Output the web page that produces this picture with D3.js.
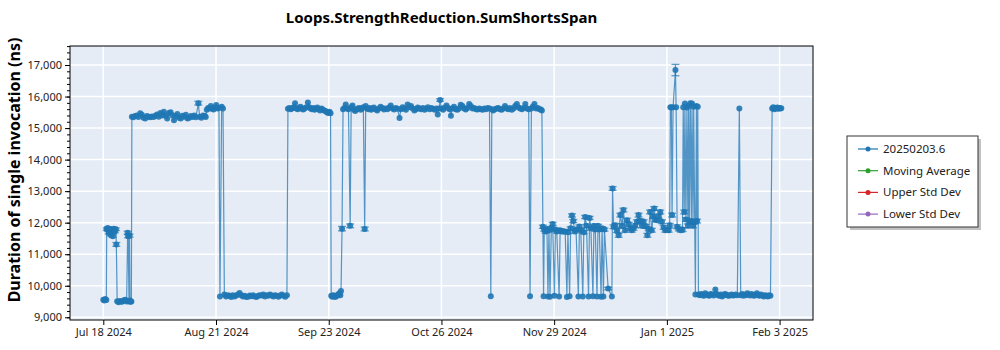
<!DOCTYPE html>
<html><head><meta charset="utf-8">
<script src="https://cdn.jsdelivr.net/npm/d3@7"></script>
<style>body{margin:0;background:#fff;} svg{display:block;font-family:"Noto Sans",sans-serif;}</style>
</head><body><svg id="chart" width="1000" height="350"></svg>
<script>
// ---------------- DATA ----------------
const chartTitle = "Loops.StrengthReduction.SumShortsSpan";
const yAxisTitle = "Duration of single invocation (ns)";
const startDate = "2024-07-18";
// days since startDate
const days = [
  // segment A
  0.0,0.3,0.6,0.9,1.0,1.3,1.6,1.9,2.2,2.5,2.8,3.1,3.4,3.7,3.85,4.1,4.5,4.9,5.3,5.7,6.1,6.5,6.9,7.2,7.35,7.6,7.75,7.9,8.1,8.3,
  // high1
  8.45,8.9,9.4,9.9,10.4,10.9,11.4,11.9,12.4,12.9,
  13.4,13.9,14.4,14.9,15.4,15.9,16.4,16.9,17.4,17.9,
  18.4,18.9,19.4,19.9,20.4,20.9,21.4,21.9,22.4,22.9,
  23.4,23.9,24.4,24.9,25.4,25.9,26.4,26.9,27.4,28.1,
  28.5,29.0,29.5,30.0,30.3,
  // high2
  30.6,31.0,31.4,31.8,32.2,32.6,33.0,33.4,33.8,34.2,34.5,35.0,35.4,35.8,
  // low2
  36.3,36.8,37.3,37.8,38.3,38.8,39.3,39.8,40.3,40.8,
  41.3,41.8,42.3,42.8,43.3,43.8,44.3,44.8,45.3,45.8,
  46.3,46.8,47.3,47.8,48.3,48.8,49.3,49.8,50.3,50.8,
  51.3,51.8,52.3,52.8,53.3,53.8,54.3,
  // high3
  54.6,55.0,55.4,55.8,56.2,56.7,57.1,57.5,57.9,58.3,
  58.7,59.1,59.5,59.9,60.5,60.9,61.3,61.7,62.1,62.5,
  62.9,63.3,63.7,64.1,64.5,64.9,65.3,65.7,66.1,66.5,
  66.9,67.2,
  // low3
  67.4,67.7,68.0,68.3,68.6,68.9,69.2,69.5,69.8,70.1,70.3,70.6,
  // high4
  70.9,71.3,71.7,72.1,72.5,73.0,73.3,73.7,74.1,74.5,
  74.9,75.3,75.7,76.1,76.5,76.9,77.3,77.6,78.0,78.4,
  78.8,79.2,79.6,80.0,80.5,81.0,81.5,82.0,82.5,83.0,
  83.5,84.0,84.5,85.0,85.5,86.0,86.5,87.0,87.6,88.0,
  88.5,89.0,89.5,90.0,90.5,91.0,91.5,92.0,92.5,93.0,
  93.5,94.0,94.5,95.0,95.5,96.0,96.5,97.0,97.5,98.0,
  98.5,98.9,99.3,99.6,100.0,100.5,101.0,101.5,102.0,102.4,
  102.8,103.2,103.7,104.2,104.7,105.2,105.7,106.2,106.7,107.2,
  107.7,108.2,108.7,109.2,109.7,110.2,110.7,111.2,111.7,112.2,
  112.7,113.2,113.7,114.2,114.6,114.9,115.3,115.8,116.3,116.8,
  117.3,117.8,118.3,118.8,119.3,119.8,120.3,120.8,121.3,121.8,
  122.3,122.8,123.3,123.8,124.3,124.8,125.3,125.8,126.2,126.6,
  127.0,127.5,128.0,128.5,129.0,129.4,129.7,
  // oscillation
  130.0,130.2,130.4,130.8,131.2,131.5,131.8,132.1,132.5,132.9,
  133.4,133.7,134.1,134.8,135.1,135.6,136.1,136.6,137.1,137.4,
  137.9,138.2,138.6,139.0,139.4,139.8,140.5,140.8,141.2,141.8,
  142.1,142.5,142.9,143.5,143.8,144.2,144.8,145.1,145.5,146.0,
  146.3,146.7,147.2,147.5,147.9,148.2,149.3,150.4,150.6,150.9,
  // rising
  151.4,151.9,152.4,152.9,153.4,153.8,154.3,154.9,155.4,155.9,
  156.3,156.8,157.3,157.8,158.3,158.8,159.3,159.8,160.4,160.9,
  161.3,161.7,162.2,162.6,162.9,163.3,163.7,164.2,164.7,165.2,
  165.7,166.2,166.7,167.2,
  // spikes
  167.5,167.7,168.0,168.2,168.5,169.2,169.4,169.7,170.2,170.8,
  171.3,171.5,171.8,172.0,172.3,172.6,172.9,173.1,173.3,173.6,
  173.9,174.1,174.4,174.6,174.9,175.1,175.4,175.6,175.8,176.0,
  // low4
  176.4,176.8,177.2,177.6,178.0,178.4,178.8,179.2,179.6,180.0,
  180.5,181.0,181.4,181.8,182.2,182.6,183.0,183.4,183.8,184.2,
  184.6,185.0,185.4,185.8,186.2,186.6,187.0,187.5,188.1,188.5,
  188.9,189.3,189.7,190.1,190.5,190.9,191.3,191.7,192.1,192.5,
  192.9,193.3,193.7,194.1,194.5,194.9,195.3,195.7,196.1,196.5,
  196.9,197.3,197.8,198.1,198.4,198.7,199.0,199.3,199.6,199.9,
  200.2,200.5
];
const durations = [
  // segment A
  9560,9530,9580,9545,11790,11830,11680,11800,11620,11780,11570,11810,11720,11790,11310,9510,9480,9520,9495,9500,9540,9560,9500,11680,11570,9500,11590,9530,9490,9500,
  // high1
  15360,15340,15380,15400,15350,15470,15420,15330,15300,15380,
  15360,15340,15370,15350,15390,15430,15360,15480,15400,15520,
  15390,15300,15480,15500,15410,15250,15380,15450,15330,15300,
  15390,15360,15420,15300,15330,15380,15350,15400,15340,15790,
  15360,15330,15400,15380,15350,
  // high2
  15580,15640,15620,15700,15610,15590,15650,15730,15620,15640,9660,15680,15620,9720,
  // low2
  9660,9700,9680,9640,9700,9660,9690,9720,9770,9700,
  9660,9680,9640,9650,9690,9670,9700,9660,9640,9680,
  9700,9690,9720,9660,9700,9680,9720,9690,9660,9700,
  9680,9650,9690,9720,9680,9650,9700,
  // high3
  15610,15640,15600,15620,15650,15790,15620,15600,15640,15680,
  15610,15590,15620,15650,15810,15660,15620,15600,15640,15580,
  15620,15650,15600,15560,15620,15590,15560,15540,15500,15480,
  15520,15470,
  // low3
  9680,9650,9700,9670,9640,9690,9680,9720,9760,9700,9830,11810,
  // high4
  15600,15640,15750,15620,15600,11900,15660,15720,15580,15540,
  15600,15620,15640,15580,15620,15660,11800,15700,15620,15600,
  15640,15580,15620,15650,15600,15560,15620,15680,15640,15590,
  15620,15600,15650,15720,15620,15590,15640,15610,15320,15600,
  15660,15620,15580,15750,15660,15700,15620,15560,15600,15650,
  15620,15600,15640,15580,15620,15660,15600,15640,15610,15580,
  15620,15430,15620,15890,15620,15580,15650,15720,15640,15600,
  15390,15620,15680,15600,15580,15620,15740,15700,15620,15590,
  15640,15760,15700,15620,15640,15600,15590,15620,15600,15580,
  15620,15600,15640,15620,9667,15600,15560,15600,15620,15640,
  15600,15580,15620,15700,15620,15600,15640,15580,15620,15700,
  15760,15650,15620,15600,15640,15760,15620,15600,9667,15620,
  15680,15760,15620,15640,15600,15590,15560,
  // oscillation
  11870,9670,11780,11720,11800,9660,11760,9650,11820,11960,
  9680,11780,11720,9660,11760,11720,11720,11720,9640,11700,
  9670,11820,12230,12050,11720,11780,9660,11880,11760,9660,
  11700,12180,11900,9660,12150,11820,9670,11900,11780,9660,
  11900,11780,9650,11820,9660,11780,9910,9660,13085,11870,
  // rising
  11920,11750,11600,12240,11900,12400,11760,12080,11950,11820,
  11760,11820,11900,12030,12240,12060,11900,12030,11880,11600,
  11800,12340,11760,12200,12450,12100,12080,12200,12340,12030,
  11850,11760,11770,11760,
  // spikes
  11920,15660,15650,12240,15660,16840,15660,11870,11800,11760,
  11780,15660,12340,15780,12100,15650,11900,15700,12020,15790,
  12050,15780,11900,15680,12020,9720,15700,12050,15680,9720,
  // low4
  9700,9740,9700,9680,9760,9720,9700,9680,9740,9720,
  9690,9880,9740,9700,9680,9720,9660,9700,9740,9720,
  9690,9680,9700,9720,9690,9700,9720,9700,15620,9700,
  9740,9680,9720,9700,9760,9720,9690,9740,9700,9680,
  9720,9760,9700,9680,9720,9700,9660,9700,9680,9660,
  9700,9680,15620,15660,15600,15640,15620,15650,15610,15640,
  15620,15630
];
const errors = [
  // segment A
  0,0,0,0,40,40,40,40,40,40,40,40,40,40,60,0,0,0,0,0,0,0,0,50,50,0,50,0,0,0,
  // high1
  0,0,0,0,0,0,0,0,0,0,
  0,0,0,0,0,0,0,0,0,0,
  0,0,0,0,0,0,0,0,0,0,
  0,0,0,0,0,0,0,0,0,60,
  0,0,0,0,0,
  // high2
  0,0,0,0,0,0,0,0,0,0,0,0,0,0,
  // low2
  0,0,0,0,0,0,0,0,0,0,
  0,0,0,0,0,0,0,0,0,0,
  0,0,0,0,0,0,0,0,0,0,
  0,0,0,0,0,0,0,
  // high3
  0,0,0,0,0,0,0,0,0,0,
  0,0,0,0,0,0,0,0,0,0,
  0,0,0,0,0,0,0,0,0,0,
  0,0,
  // low3
  0,0,0,0,0,0,0,0,0,0,0,70,
  // high4
  0,0,0,0,0,60,0,0,0,0,
  0,0,0,0,0,0,60,0,0,0,
  0,0,0,0,0,0,0,0,0,0,
  0,0,0,0,0,0,0,0,0,0,
  0,0,0,0,0,0,0,0,0,0,
  0,0,0,0,0,0,0,0,0,0,
  0,0,0,40,0,0,0,0,0,0,
  0,0,0,0,0,0,0,0,0,0,
  0,0,0,0,0,0,0,0,0,0,
  0,0,0,0,0,0,0,0,0,0,
  0,0,0,0,0,0,0,0,0,0,
  0,0,0,0,0,0,0,0,0,0,
  0,0,0,0,0,0,0,
  // oscillation
  50,0,50,50,50,0,50,0,50,50,
  0,50,50,0,50,50,50,50,0,50,
  0,50,50,50,50,50,0,50,50,0,
  50,50,50,0,50,50,0,50,50,0,
  50,50,0,50,0,50,40,0,60,60,
  // rising
  60,60,60,60,60,60,60,60,60,60,
  60,60,60,60,60,60,60,60,60,60,
  60,60,60,60,60,60,60,60,60,60,
  60,60,60,60,
  // spikes
  60,0,0,60,0,180,0,60,60,60,
  60,0,60,0,60,0,60,0,60,0,
  60,0,60,0,60,0,0,60,0,0,
  // low4
  0,0,0,0,0,0,0,0,0,0,
  0,0,0,0,0,0,0,0,0,0,
  0,0,0,0,0,0,0,0,0,0,
  0,0,0,0,0,0,0,0,0,0,
  0,0,0,0,0,0,0,0,0,0,
  0,0,0,0,0,0,0,0,0,0,
  0,0
];
const legendNames = ["20250203.6", "Moving Average", "Upper Std Dev", "Lower Std Dev"];
const legendColors = ["#1f77b4", "#2ca02c", "#d62728", "#9467bd"];
const yTickValues = [9000, 10000, 11000, 12000, 13000, 14000, 15000, 16000, 17000];
const xTickDays = [0, 33.33, 66.67, 100, 133.33, 166.67, 200];
const xTickLabels = ["Jul 18 2024", "Aug 21 2024", "Sep 23 2024", "Oct 26 2024", "Nov 29 2024", "Jan 1 2025", "Feb 3 2025"];
const xDomainDays = [-9.85, 209.88];
const yDomain = [8914, 17603];

// ---------------- DRAW ----------------
if (days.length !== durations.length || days.length !== errors.length) {
  console.error("length mismatch", days.length, durations.length, errors.length);
}
const plot = {left: 70, right: 813, top: 46, bottom: 320};
const svg = d3.select("#chart");
const base = Date.parse(startDate + "T00:00:00Z");
const toDate = d => new Date(base + d * 864e5);
const x = d3.scaleUtc().domain(xDomainDays.map(toDate)).range([plot.left, plot.right]);
const y = d3.scaleLinear().domain(yDomain).range([plot.bottom, plot.top]);
const data = days.map((d, i) => ({date: toDate(d), v: durations[i], e: errors[i]}));

svg.append("rect").attr("x", plot.left).attr("y", plot.top)
  .attr("width", plot.right - plot.left).attr("height", plot.bottom - plot.top)
  .attr("fill", "#e5ecf6");

// grid
const grid = svg.append("g").attr("stroke", "#ffffff").attr("stroke-width", 1.5);
grid.selectAll("line.gy").data(yTickValues).join("line")
  .attr("x1", plot.left).attr("x2", plot.right)
  .attr("y1", d => y(d)).attr("y2", d => y(d));
grid.selectAll("line.gx").data(xTickDays).join("line")
  .attr("y1", plot.top).attr("y2", plot.bottom)
  .attr("x1", d => x(toDate(d))).attr("x2", d => x(toDate(d)));

// clip
svg.append("clipPath").attr("id", "clip").append("rect")
  .attr("x", plot.left).attr("y", plot.top)
  .attr("width", plot.right - plot.left).attr("height", plot.bottom - plot.top);
const g = svg.append("g").attr("clip-path", "url(#clip)");
const blue = legendColors[0];

// line
g.append("path").datum(data)
  .attr("d", d3.line().x(d => x(d.date)).y(d => y(d.v)))
  .attr("fill", "none").attr("stroke", blue).attr("stroke-width", 1.2).attr("stroke-opacity", 0.75);

// error bars
const eb = g.append("g").attr("stroke", blue).attr("stroke-width", 1.3).attr("stroke-opacity", 0.7);
const withErr = data.filter(d => d.e > 0);
eb.selectAll("line.v").data(withErr).join("line")
  .attr("x1", d => x(d.date)).attr("x2", d => x(d.date))
  .attr("y1", d => y(d.v - d.e)).attr("y2", d => y(d.v + d.e));
eb.selectAll("line.t").data(withErr).join("line")
  .attr("x1", d => x(d.date) - 4).attr("x2", d => x(d.date) + 4)
  .attr("y1", d => y(d.v + d.e)).attr("y2", d => y(d.v + d.e));
eb.selectAll("line.b").data(withErr).join("line")
  .attr("x1", d => x(d.date) - 4).attr("x2", d => x(d.date) + 4)
  .attr("y1", d => y(d.v - d.e)).attr("y2", d => y(d.v - d.e));

// markers
g.selectAll("circle").data(data).join("circle")
  .attr("cx", d => x(d.date)).attr("cy", d => y(d.v)).attr("r", 3)
  .attr("fill", blue).attr("fill-opacity", 0.9);

// frame
svg.append("rect").attr("x", plot.left).attr("y", plot.top)
  .attr("width", plot.right - plot.left).attr("height", plot.bottom - plot.top)
  .attr("fill", "none").attr("stroke", "#000").attr("stroke-width", 1);

// axes
const yAxis = svg.append("g").attr("transform", `translate(${plot.left},0)`)
  .call(d3.axisLeft(y).tickValues(yTickValues).tickFormat(d3.format(",")).tickSize(5).tickPadding(3));
const yMinor = svg.append("g").attr("transform", `translate(${plot.left},0)`)
  .call(d3.axisLeft(y).tickValues(d3.range(9000, 17601, 200)).tickFormat("").tickSize(3));
const xAxis = svg.append("g").attr("transform", `translate(0,${plot.bottom})`)
  .call(d3.axisBottom(x).tickValues(xTickDays.map(toDate)).tickFormat((d, i) => xTickLabels[i]).tickSize(5).tickPadding(3));
[yAxis, yMinor, xAxis].forEach(a => {
  a.select(".domain").remove();
  a.selectAll("text").attr("font-family", "Noto Sans").attr("font-size", 11).attr("fill", "#222");
  a.selectAll("line").attr("stroke", "#000");
});

// titles
svg.append("text").attr("x", (plot.left + plot.right) / 2).attr("y", 23)
  .attr("text-anchor", "middle").attr("font-weight", "bold").attr("font-size", 15)
  .attr("fill", "#000").text(chartTitle);
svg.append("text").attr("transform", "translate(20,170) rotate(-90)")
  .attr("text-anchor", "middle").attr("font-weight", "bold").attr("font-size", 16)
  .attr("fill", "#000").text(yAxisTitle);

// legend
const lg = svg.append("g").attr("transform", "translate(847,136)");
lg.append("rect").attr("x", 3).attr("y", 3).attr("width", 131).attr("height", 91).attr("fill", "#999").attr("opacity", 0.6);
lg.append("rect").attr("width", 131).attr("height", 91).attr("fill", "#fff").attr("stroke", "#333").attr("stroke-width", 1);
const items = lg.selectAll("g.item").data(legendNames).join("g")
  .attr("transform", (d, i) => `translate(0,${13 + i * 21.7})`);
items.append("line").attr("x1", 11).attr("x2", 31).attr("y1", 0).attr("y2", 0)
  .attr("stroke", (d, i) => legendColors[i]).attr("stroke-width", 1.2);
items.append("circle").attr("cx", 21).attr("cy", 0).attr("r", 2.5).attr("fill", (d, i) => legendColors[i]);
items.append("text").attr("x", 36).attr("y", 0).attr("dy", "0.35em")
  .attr("font-size", 11.5).attr("fill", "#222").text(d => d);
</script>
</body></html>
